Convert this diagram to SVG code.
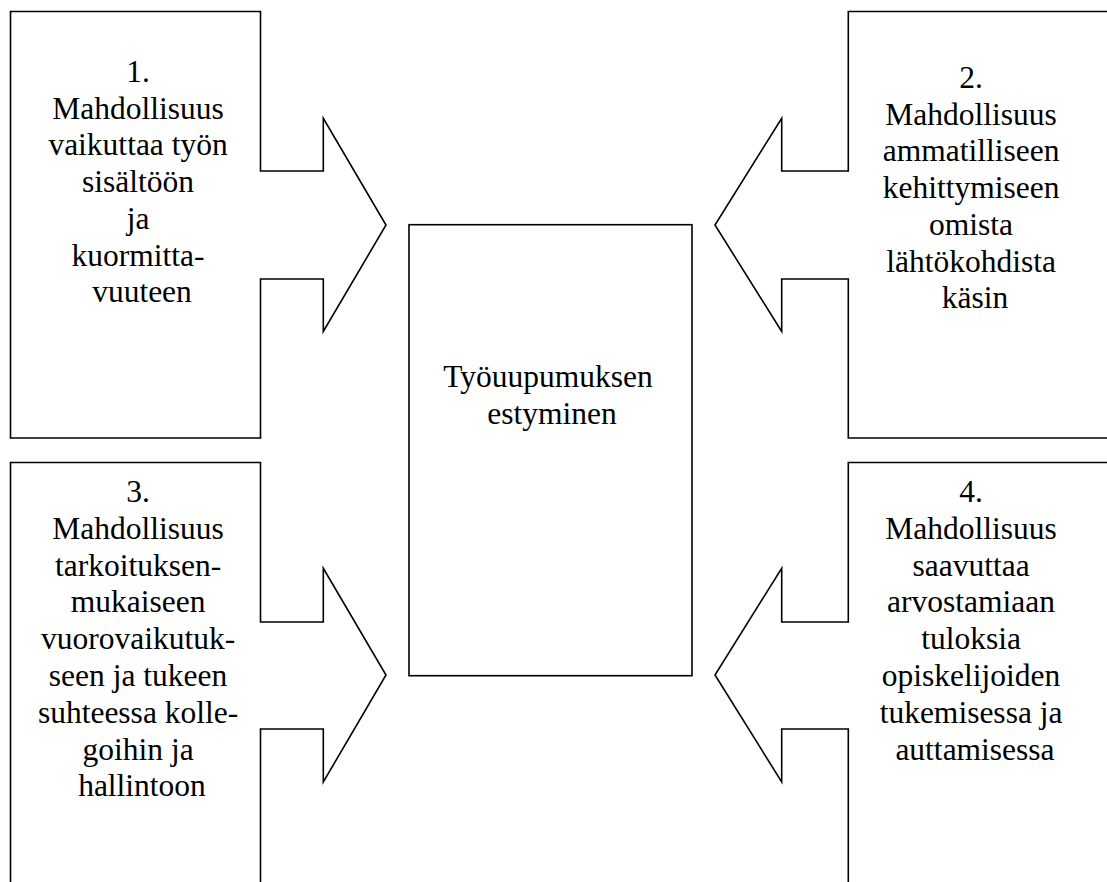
<svg xmlns="http://www.w3.org/2000/svg" width="1107" height="882" viewBox="0 0 1107 882">
  <style>
    .shape { fill: #ffffff; stroke: #000000; stroke-width: 1.6; stroke-linejoin: miter; }
    .label { font-family: 'Liberation Serif', 'Times New Roman', serif; font-size: 31.5px; fill: #000000; text-anchor: middle; }
  </style>
  <rect x="0" y="0" width="1107" height="882" fill="#ffffff"/>

  <!-- Callout 1: box with arrow pointing right -->
  <g id="node-1">
    <path class="shape" d="M10.5,11.5 H260.5 V171 H323.3 V118.3 L386,225 L323.3,331.5 V279 H260.5 V438 H10.5 Z"/>
    <text class="label" x="142" y="82">
      <tspan x="142" dy="0">1.</tspan>
      <tspan x="142" dy="36.7">Mahdollisuus</tspan>
      <tspan x="142" dy="36.7">vaikuttaa työn</tspan>
      <tspan x="142" dy="36.7">sisältöön</tspan>
      <tspan x="142" dy="36.7">ja</tspan>
      <tspan x="142" dy="36.7">kuormitta-</tspan>
      <tspan x="142" dy="36.7">vuuteen</tspan>
    </text>
  </g>

  <!-- Callout 2: box with arrow pointing left, runs off the right edge -->
  <g id="node-2">
    <path class="shape" d="M1115,11.5 H848.3 V171 H781.7 V118.3 L715,225 L781.7,331.5 V279 H848.3 V438 H1115"/>
    <text class="label" x="975" y="88">
      <tspan x="975" dy="0">2.</tspan>
      <tspan x="975" dy="36.7">Mahdollisuus</tspan>
      <tspan x="975" dy="36.7">ammatilliseen</tspan>
      <tspan x="975" dy="36.7">kehittymiseen</tspan>
      <tspan x="975" dy="36.7">omista</tspan>
      <tspan x="975" dy="36.7">lähtökohdista</tspan>
      <tspan x="975" dy="36.7">käsin</tspan>
    </text>
  </g>

  <!-- Callout 3: box with arrow pointing right, runs off the bottom edge -->
  <g id="node-3">
    <path class="shape" d="M10.5,890 V462.5 H260.5 V622 H323.3 V568.3 L386,675 L323.3,782 V729 H260.5 V890"/>
    <text class="label" x="142" y="502">
      <tspan x="142" dy="0">3.</tspan>
      <tspan x="142" dy="36.8">Mahdollisuus</tspan>
      <tspan x="142" dy="36.8">tarkoituksen-</tspan>
      <tspan x="142" dy="36.8">mukaiseen</tspan>
      <tspan x="142" dy="36.8">vuorovaikutuk-</tspan>
      <tspan x="142" dy="36.8">seen ja tukeen</tspan>
      <tspan x="142" dy="36.8">suhteessa kolle-</tspan>
      <tspan x="142" dy="36.8">goihin ja</tspan>
      <tspan x="142" dy="36.8">hallintoon</tspan>
    </text>
  </g>

  <!-- Callout 4: box with arrow pointing left, runs off right and bottom edges -->
  <g id="node-4">
    <path class="shape" d="M1115,462.5 H848.3 V622 H781.7 V568.3 L715,675 L781.7,782 V729 H848.3 V890"/>
    <text class="label" x="975" y="502">
      <tspan x="975" dy="0">4.</tspan>
      <tspan x="975" dy="36.8">Mahdollisuus</tspan>
      <tspan x="975" dy="36.8">saavuttaa</tspan>
      <tspan x="975" dy="36.8">arvostamiaan</tspan>
      <tspan x="975" dy="36.8">tuloksia</tspan>
      <tspan x="975" dy="36.8">opiskelijoiden</tspan>
      <tspan x="975" dy="36.8">tukemisessa ja</tspan>
      <tspan x="975" dy="36.8">auttamisessa</tspan>
    </text>
  </g>

  <!-- Central target box -->
  <g id="node-center">
    <rect class="shape" x="409" y="224.7" width="283" height="451"/>
    <text class="label" x="552" y="387">
      <tspan x="552" dy="0">Työuupumuksen</tspan>
      <tspan x="552" dy="36.5">estyminen</tspan>
    </text>
  </g>

  <!-- The arrow heads are part of the callout outlines; no separate connectors -->
  <g id="connectors"/>
</svg>
